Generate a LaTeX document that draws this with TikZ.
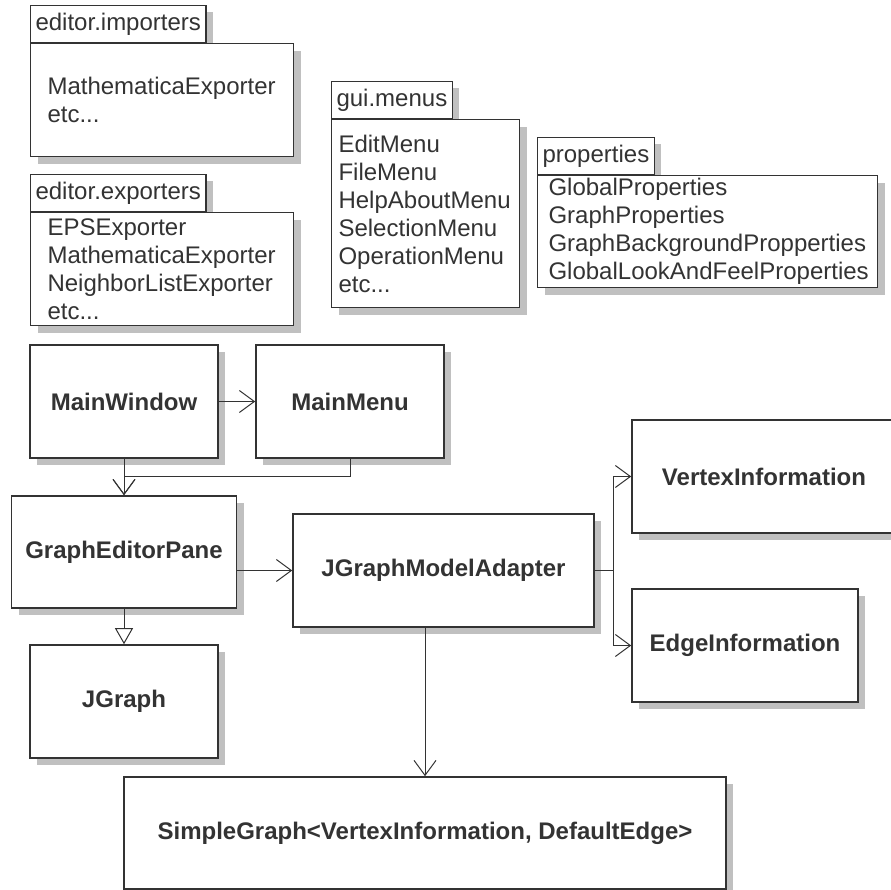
\documentclass[tikz,border=0pt]{standalone}
\usepackage{fontspec}
\setmainfont{Liberation Sans}
\usepackage{tikz}
\usetikzlibrary{positioning,arrows.meta,calc,shadows}
\definecolor{umlline}{RGB}{51,51,51}
\definecolor{umlshadow}{RGB}{192,192,192}

\begin{document}
\begin{tikzpicture}[
    x=1pt, y=-1pt,
    font=\fontsize{24}{28}\selectfont,
    every node/.style={text=umlline},
    boxshadow/.style={drop shadow={shadow xshift=7pt, shadow yshift=-7pt, fill=umlshadow, opacity=1}},
    classbox/.style={rectangle, draw=umlline, line width=1.6pt, fill=white, boxshadow, minimum height=113pt, inner sep=0pt, font=\fontsize{24}{28}\selectfont\bfseries},
    pkgtab/.style={rectangle, draw=umlline, line width=1.1pt, fill=white, boxshadow, anchor=south west, minimum height=37pt, inner xsep=5pt, inner ysep=0pt},
    pkgbody/.style={rectangle, draw=umlline, line width=1.1pt, fill=white, boxshadow, anchor=north west, align=left, inner ysep=0pt, execute at begin node={\hyphenpenalty=10000\relax}},
    dep/.style={draw=umlline, line width=1pt, -{Straight Barb[length=15pt, width=22pt]}},
    inh/.style={draw=umlline, line width=1pt, -{Triangle[open, length=16pt, width=18pt, fill=white]}},
]
    \useasboundingbox (0,0) rectangle (891,890);
    \clip (0,0) rectangle (891,890);

    % packages
    \node[pkgtab] (imptab) at (30,43) {editor.importers};
    \node[pkgbody, minimum height=113pt, inner xsep=17pt, text width=229pt] (imp) at (30,43) {MathematicaExporter\\etc...};
    \node[pkgtab] (exptab) at (30,212) {editor.exporters};
    \node[pkgbody, minimum height=113pt, inner xsep=17pt, text width=229pt] (exp) at (30,212) {EPSExporter\\MathematicaExporter\\NeighborListExporter\\etc...};
    \node[pkgtab] (menutab) at (331,119) {gui.menus};
    \node[pkgbody, minimum height=188pt, inner xsep=7pt, text width=174pt] (menus) at (331,119) {EditMenu\\FileMenu\\HelpAboutMenu\\SelectionMenu\\OperationMenu\\etc...};
    \node[pkgtab] (proptab) at (537,175) {properties};
    \node[pkgbody, minimum height=112pt, inner xsep=11pt, text width=318pt] (props) at (537,175) {GlobalProperties\\GraphProperties\\GraphBackgroundPropperties\\GlobalLookAndFeelProperties};

    % classes
    \node[classbox, minimum width=188pt] (mainwindow) at (124,401.5) {MainWindow};
    \node[classbox, minimum width=188pt] (mainmenu) at (350,401.5) {MainMenu};
    \node[classbox, minimum width=225pt, minimum height=112pt] (gep) at (124,552) {GraphEditorPane};
    \node[classbox, minimum width=301pt] (jgma) at (443.5,570.5) {JGraphModelAdapter};
    \node[classbox, minimum width=264pt] (vertex) at (764,476.5) {VertexInformation};
    \node[classbox, minimum width=226pt] (edge) at (745,645.5) {EdgeInformation};
    \node[classbox, minimum width=188pt] (jgraph) at (124,701.5) {JGraph};
    \node[classbox, minimum width=602pt, minimum height=112pt] (simple) at (425,833) {SimpleGraph<VertexInformation, DefaultEdge>};

    % connectors
    \draw[dep] (mainwindow) -- (mainmenu);
    \draw[dep] (mainwindow) -- (gep);
    \draw[dep] (mainmenu.south) -- ++(0,18) -| (gep.north);
    \draw[dep] (gep.east |- jgma.west) -- (jgma.west);
    \draw[inh] (gep) -- (jgraph);
    \draw[dep] (jgma.east) -- ++(19,0) |- (vertex.west);
    \draw[dep] (jgma.east) -- ++(19,0) |- (edge.west);
    \draw[dep] (simple.north |- jgma.south) -- (simple.north);
\end{tikzpicture}
\end{document}
